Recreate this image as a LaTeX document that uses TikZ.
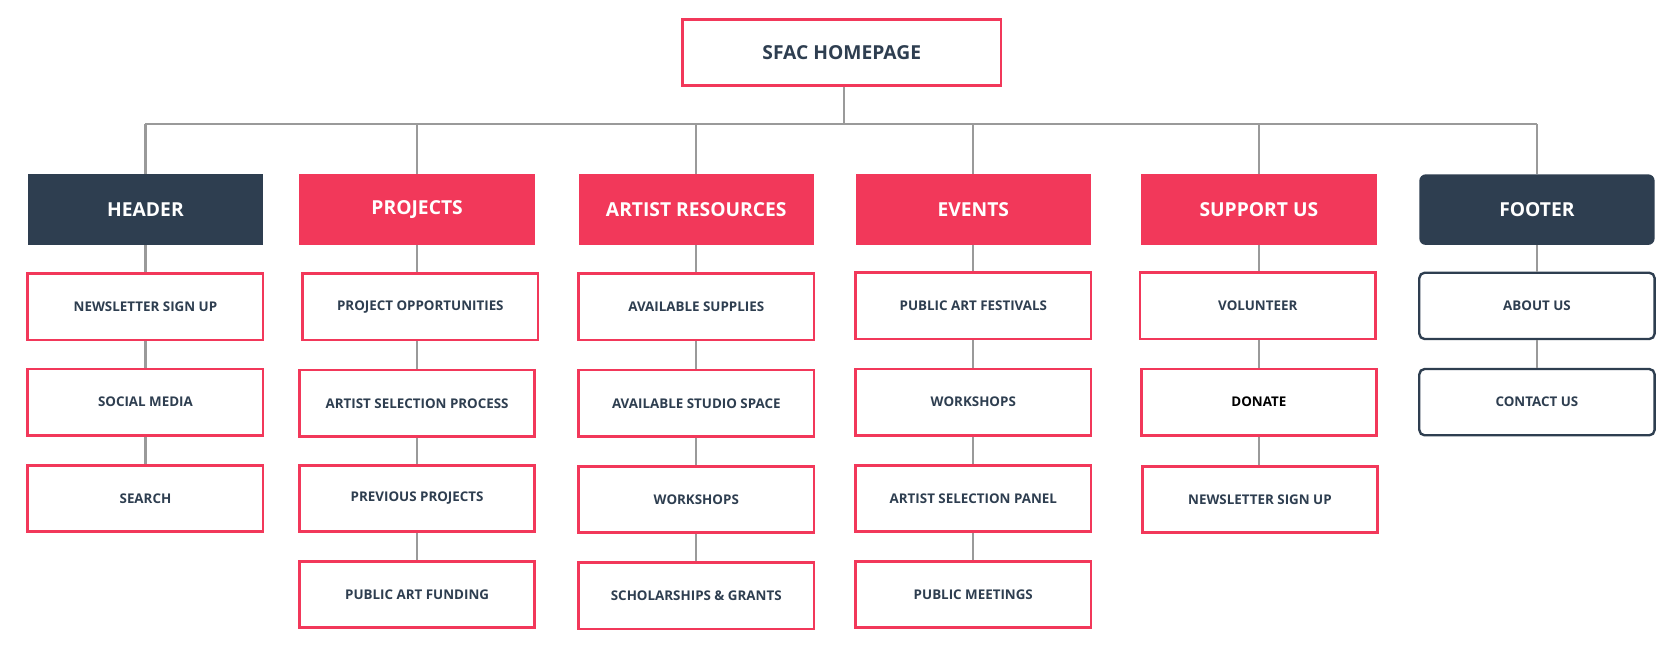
\documentclass[tikz,border=0pt]{standalone}
\usepackage{fontspec}
\setmainfont{Open Sans}
\definecolor{sred}{HTML}{F2385A}
\definecolor{sdark}{HTML}{2E3E50}
\definecolor{sline}{HTML}{9A9A9A}
\begin{document}
\begin{tikzpicture}[x=1pt,y=-1pt,
  base/.style={minimum width=220pt,minimum height=62pt,inner sep=0pt,font=\bfseries\fontsize{12.5}{15}\selectfont,text=sdark},
  child/.style={base,draw=sred,line width=2.5pt,fill=white},
  fchild/.style={base,draw=sdark,line width=2.2pt,rounded corners=5pt,fill=white},
  hred/.style={base,fill=sred,text=white,minimum height=66pt,font=\bfseries\fontsize{18}{20}\selectfont},
  hdark/.style={hred,fill=sdark},
  conn/.style={draw=sline,line width=2pt}]
\useasboundingbox (0,0) rectangle (1567,610);
\node[child,minimum width=298pt,font=\bfseries\fontsize{18}{20}\selectfont] (top) at (787,49) {SFAC HOMEPAGE};
\coordinate (bus) at (789,116);
\node[hdark] (h1) at (136,196) {HEADER};
\node[hred] (h2) at (390,196) {PROJECTS};
\node[hred] (h3) at (651,196) {ARTIST RESOURCES};
\node[hred] (h4) at (910,196) {EVENTS};
\node[hred] (h5) at (1177,196) {SUPPORT US};
\node[hdark,rounded corners=6pt] (h6) at (1437,196) {FOOTER};
\node[child] (a1) at (136,287) {NEWSLETTER SIGN UP};
\node[child] (a2) at (136,376) {SOCIAL MEDIA};
\node[child] (a3) at (136,466) {SEARCH};
\node[child] (b1) at (393,287) {PROJECT OPPORTUNITIES};
\node[child] (b2) at (390,377) {ARTIST SELECTION PROCESS};
\node[child] (b3) at (390,466) {PREVIOUS PROJECTS};
\node[child] (b4) at (390,556) {PUBLIC ART FUNDING};
\node[child] (c1) at (651,287) {AVAILABLE SUPPLIES};
\node[child] (c2) at (651,377) {AVAILABLE STUDIO SPACE};
\node[child] (c3) at (651,467) {WORKSHOPS};
\node[child] (c4) at (651,557) {SCHOLARSHIPS \& GRANTS};
\node[child] (d1) at (910,286) {PUBLIC ART FESTIVALS};
\node[child] (d2) at (910,376) {WORKSHOPS};
\node[child] (d3) at (910,466) {ARTIST SELECTION PANEL};
\node[child] (d4) at (910,556) {PUBLIC MEETINGS};
\node[child] (e1) at (1176,286) {VOLUNTEER};
\node[child,text=black] (e2) at (1177,376) {DONATE};
\node[child] (e3) at (1178,467) {NEWSLETTER SIGN UP};
\node[fchild] (f1) at (1437,286) {ABOUT US};
\node[fchild] (f2) at (1437,376) {CONTACT US};
\draw[conn] (top.south -| bus) -- (bus);
\draw[conn] (h1.north |- bus) -- (h6.north |- bus);
\foreach \h in {h1,h2,h3,h4,h5,h6} \draw[conn] (\h.north |- bus) -- (\h.north);
\draw[conn] (h1) -- (a1) (a1) -- (a2) (a2) -- (a3);
\draw[conn] (h2.south) -- (h2.south |- b1.north) (b1.south -| b2) -- (b2) (b2) -- (b3) (b3) -- (b4);
\draw[conn] (h3) -- (c1) (c1) -- (c2) (c2) -- (c3) (c3) -- (c4);
\draw[conn] (h4) -- (d1) (d1) -- (d2) (d2) -- (d3) (d3) -- (d4);
\draw[conn] (h5.south) -- (h5.south |- e1.north) (e1.south -| h5) -- (e2.north -| h5) (e2.south -| h5) -- (e3.north -| h5);
\draw[conn] (h6) -- (f1) (f1) -- (f2);
\end{tikzpicture}
\end{document}
